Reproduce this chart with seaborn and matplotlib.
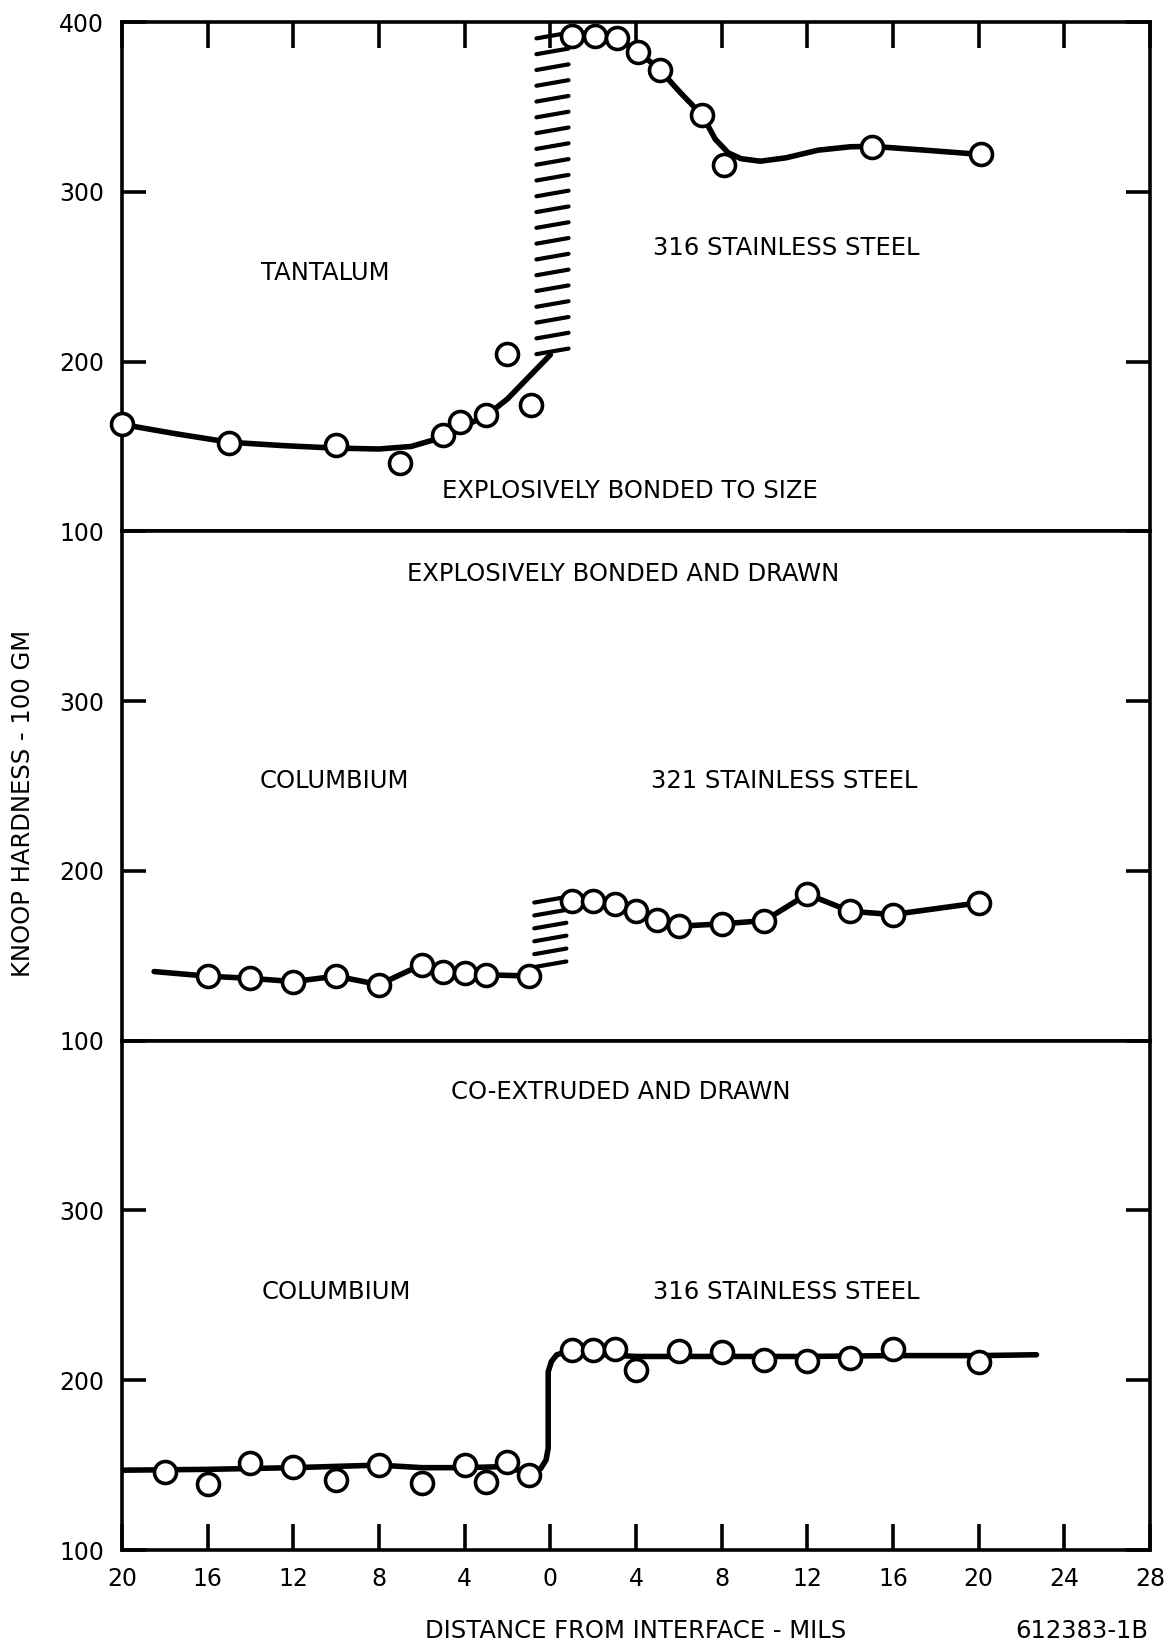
import numpy as np
import pandas as pd
import matplotlib
matplotlib.use("Agg")
import matplotlib.pyplot as plt
import seaborn as sns

# ---------------- data ----------------
# x: distance from interface in mils (negative = refractory-metal side, shown as absolute value)
# Panel 1: explosively bonded to size (tantalum / 316 stainless steel)
p1_ta_x = [-20, -15, -10, -7, -5, -4.2, -3, -2, -0.9]
p1_ta_y = [163, 152, 151, 140, 157, 164.5, 168.5, 204.5, 174.5]
p1_ta_curve_x = [-20, -17.5, -15, -12.5, -10, -8, -6.5, -5, -4.2, -3, -2, -1, 0.0]
p1_ta_curve_y = [163, 157.5, 152.5, 150.5, 149, 148.5, 150, 155.5, 161, 168, 178, 191, 204]
p1_ss_x = [1.0, 2.1, 3.1, 4.1, 5.1, 7.1, 8.1, 15.0, 20.1]
p1_ss_y = [392, 392, 390.5, 382.5, 372, 345, 316, 326.5, 322]
p1_ss_curve_x = [1.0, 2.1, 3.1, 4.1, 5.1, 6.1, 7.1, 7.7, 8.3, 8.9, 9.8, 11.0, 12.5, 14.0, 15.0, 17.5, 20.1]
p1_ss_curve_y = [392, 392, 390.5, 382.5, 372, 358, 345, 331, 323, 319.5, 318, 320, 324.5, 326.5, 326.8, 324.5, 322]

# Panel 2: explosively bonded and drawn (columbium / 321 stainless steel)
p2_cb_x = [-16, -14, -12, -10, -8, -6, -5, -4, -3, -1]
p2_cb_y = [138, 136.7, 134.8, 138, 133, 144.8, 140.7, 140, 138.8, 138.1]
p2_cb_curve_x = [-18.5, -16, -14, -12, -10, -8, -6, -5, -4, -3, -1]
p2_cb_curve_y = [140.7, 138, 136.7, 134.8, 138, 133, 144.8, 140.7, 140, 138.8, 138.1]
p2_ss_x = [1, 2, 3, 4, 5, 6, 8, 10, 12, 14, 16, 20]
p2_ss_y = [182.4, 182, 180.5, 176.2, 171.3, 167.4, 168.8, 170.7, 186.3, 176.2, 174.3, 181.2]

# Panel 3: co-extruded and drawn (columbium / 316 stainless steel)
p3_cb_x = [-18, -16, -14, -12, -10, -8, -6, -4, -3, -2, -1]
p3_cb_y = [146, 139, 151, 149, 141, 150.2, 139.4, 150, 140, 152, 144]
p3_ss_x = [1, 2, 3, 4, 6, 8, 10, 12, 14, 16, 20]
p3_ss_y = [218, 218, 218.5, 206, 217.5, 216.5, 212, 211.5, 213, 218.5, 211]
p3_curve_x = [-20, -16, -12, -8, -6, -4, -2.5, -1.0, -0.45, -0.2, -0.1, -0.1, 0.05, 0.3, 0.7, 1.0, 4, 8, 12, 16, 20, 22.7]
p3_curve_y = [147, 147.5, 148.5, 150, 148.5, 148.5, 149, 146, 148, 153, 160, 205, 211, 215, 216.5, 216, 214, 214, 214, 214.5, 214.5, 215]

# interface hatch bands: (x_left, x_right, y_low, y_high, number of strokes)
p1_hatch = (-0.65, 0.85, 206, 392, 21)
p2_hatch = (-0.75, 0.75, 145, 183, 6)

x_ticks = [-20, -16, -12, -8, -4, 0, 4, 8, 12, 16, 20, 24, 28]
x_ticklabels = [str(abs(v)) for v in x_ticks]
y_ticks = [100, 200, 300, 400]

# ---------------- drawing ----------------
sns.set_theme(style="white")
plt.rcParams['font.family'] = ['DejaVu Sans']
plt.rcParams['text.color'] = 'black'
plt.rcParams['axes.labelcolor'] = 'black'
plt.rcParams['xtick.color'] = 'black'
plt.rcParams['ytick.color'] = 'black'

fig, axes = plt.subplots(3, 1, figsize=(11.72, 16.47), dpi=100, sharex=True)
fig.subplots_adjust(left=122/1172, right=1150/1172, top=1-22/1647,
                    bottom=1-1550/1647, hspace=0)

LW = 4.0
MS = 250
FS = 17.5

def curve(ax, xs, ys):
    df = pd.DataFrame({"x": xs, "y": ys})
    sns.lineplot(data=df, x="x", y="y", ax=ax, color="black", linewidth=LW,
                 sort=False, estimator=None, solid_capstyle="round", zorder=3)

def points(ax, xs, ys):
    df = pd.DataFrame({"x": xs, "y": ys})
    sns.scatterplot(data=df, x="x", y="y", ax=ax, s=MS, marker="o", color="white",
                    edgecolor="black", linewidth=2.6, zorder=5, clip_on=False)

def hatch(ax, spec):
    x0, x1, ylo, yhi, n = spec
    step = (yhi - ylo) / (n - 1)
    slant = 3.3
    for i in range(n):
        yc = ylo + i * step
        ax.plot([x0, x1], [yc - slant / 2, yc + slant / 2], color="black",
                lw=3.0, solid_capstyle="round", zorder=2)

ax1, ax2, ax3 = axes

# panel 1
hatch(ax1, p1_hatch)
curve(ax1, p1_ta_curve_x, p1_ta_curve_y)
curve(ax1, p1_ss_curve_x, p1_ss_curve_y)
points(ax1, p1_ta_x, p1_ta_y)
points(ax1, p1_ss_x, p1_ss_y)
ax1.text(-10.5, 252, "TANTALUM", ha="center", va="center", fontsize=FS)
ax1.text(11.0, 267, "316 STAINLESS STEEL", ha="center", va="center", fontsize=FS)
ax1.text(3.7, 123.5, "EXPLOSIVELY BONDED TO SIZE", ha="center", va="center", fontsize=FS)

# panel 2
hatch(ax2, p2_hatch)
curve(ax2, p2_cb_curve_x, p2_cb_curve_y)
curve(ax2, p2_ss_x, p2_ss_y)
points(ax2, p2_cb_x, p2_cb_y)
points(ax2, p2_ss_x, p2_ss_y)
ax2.text(3.4, 375, "EXPLOSIVELY BONDED AND DRAWN", ha="center", va="center", fontsize=FS)
ax2.text(-10.1, 253, "COLUMBIUM", ha="center", va="center", fontsize=FS)
ax2.text(10.9, 253, "321 STAINLESS STEEL", ha="center", va="center", fontsize=FS)

# panel 3
curve(ax3, p3_curve_x, p3_curve_y)
points(ax3, p3_cb_x, p3_cb_y)
points(ax3, p3_ss_x, p3_ss_y)
ax3.text(3.3, 370, "CO-EXTRUDED AND DRAWN", ha="center", va="center", fontsize=FS)
ax3.text(-10.0, 252, "COLUMBIUM", ha="center", va="center", fontsize=FS)
ax3.text(11.0, 252, "316 STAINLESS STEEL", ha="center", va="center", fontsize=FS)

for i, ax in enumerate(axes):
    ax.set_xlim(-20, 28)
    ax.set_ylim(100, 400)
    for s in ax.spines.values():
        s.set_linewidth(2.6)
        s.set_color("black")
        s.set_visible(True)
    ax.set_yticks(y_ticks)
    ax.set_yticklabels(['100', '200', '300', '400'] if i == 0 else ['100', '200', '300', ''])
    ax.tick_params(axis='y', which='major', direction='in', length=17, width=2.6,
                   left=True, right=True, labelleft=True, labelright=False,
                   labelsize=FS - 0.5, pad=13, colors='black')
    ax.set_xticks(x_ticks)
    ax.set_xticklabels(x_ticklabels)
    ax.tick_params(axis='x', which='major', direction='in', length=19, width=2.6,
                   bottom=(i == 2), top=(i == 0), labelbottom=(i == 2),
                   labeltop=False, labelsize=FS - 0.5, pad=12, colors='black')
    ax.set_xlabel("")
    ax.set_ylabel("")
    ax.grid(False)

fig.text(23/1172, 1-803/1647, "KNOOP HARDNESS - 100 GM", rotation=90,
         ha="center", va="center", fontsize=FS, color="black")
fig.text(636/1172, 1-1631/1647, "DISTANCE FROM INTERFACE - MILS",
         ha="center", va="center", fontsize=FS, color="black")
fig.text(1082/1172, 1-1631/1647, "612383-1B", ha="center", va="center",
         fontsize=FS, color="black")

fig.savefig("out.png", dpi=100, facecolor="white")
